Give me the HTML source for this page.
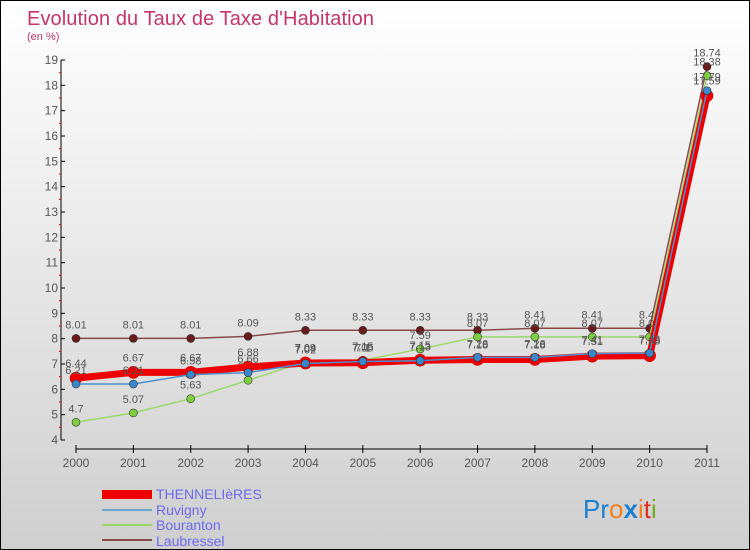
<!DOCTYPE html>
<html><head><meta charset="utf-8"><style>
body{margin:0}
#c{width:750px;height:550px;position:relative;box-sizing:border-box;border:1px solid #000;background:linear-gradient(#ffffff,#cfcfcf);font-family:"Liberation Sans",sans-serif;overflow:hidden}
</style></head><body>
<div id="c">
<svg id="s" width="748" height="548" style="position:absolute;left:0;top:0" font-family="Liberation Sans, sans-serif">
<text x="26" y="24" font-size="20" fill="#c8336a" textLength="347">Evolution du Taux de Taxe d'Habitation</text>
<text x="26" y="39" font-size="11" fill="#c8336a">(en %)</text>
<g id="axes"></g><g id="plot"></g>
<g>
<rect x="101" y="489" width="50" height="9" fill="#e00"/>
<text x="155" y="498" font-size="14" fill="#6a6af0">THENNELIèRES</text>
<line x1="101" y1="509" x2="151" y2="509" stroke="#6fa6cf" stroke-width="2"/>
<text x="155" y="514" font-size="14" fill="#6a6af0">Ruvigny</text>
<line x1="101" y1="524" x2="151" y2="524" stroke="#9ad86b" stroke-width="2"/>
<text x="155" y="529" font-size="14" fill="#6a6af0">Bouranton</text>
<line x1="101" y1="539" x2="151" y2="539" stroke="#8b4a4a" stroke-width="2"/>
<text x="155" y="545" font-size="14" fill="#6a6af0">Laubressel</text>
</g>
<text x="582" y="517" font-size="26"><tspan fill="#1a7fd0">Pr</tspan><tspan fill="#f08020">o</tspan><tspan fill="#1a7fd0" font-weight="bold">x</tspan><tspan fill="#f08020">i</tspan><tspan fill="#e03020">t</tspan><tspan fill="#70b020">i</tspan></text>
</svg>
</div>
<script>
const years=[2000,2001,2002,2003,2004,2005,2006,2007,2008,2009,2010,2011];
const yTicks=[4,5,6,7,8,9,10,11,12,13,14,15,16,17,18,19];
const thennelieres=[6.44,6.67,6.67,6.88,7.04,7.05,7.15,7.18,7.18,7.31,7.33,17.59];
const ruvigny=[6.21,6.21,6.58,6.66,7.02,7.10,7.13,7.26,7.26,7.41,7.43,17.79];
const bouranton=[4.7,5.07,5.63,6.36,7.09,7.15,7.59,8.07,8.07,8.07,8.07,18.38];
const laubressel=[8.01,8.01,8.01,8.09,8.33,8.33,8.33,8.33,8.41,8.41,8.41,18.74];
const NS="http://www.w3.org/2000/svg";
function X(i){return 75+i*(706-75)/(years.length-1);}
function Y(v){return 439-(v-4)*(439-59)/15;}
function mk(t,a,p){const e=document.createElementNS(NS,t);for(const k in a)e.setAttribute(k,a[k]);p.appendChild(e);return e;}
const ax=document.getElementById('axes'),pl=document.getElementById('plot');
const ya=mk('line',{x1:60,y1:59,x2:60,y2:439,stroke:'#000'},ax);


const xa=mk('line',{x1:75,y1:448,x2:706,y2:448,stroke:'#000'},ax);


yTicks.forEach(v=>{
  mk('line',{x1:60,y1:Y(v),x2:64,y2:Y(v),stroke:'#000'},ax);
  if(v<19)mk('line',{x1:58,y1:Y(v+0.5),x2:60,y2:Y(v+0.5),stroke:'#e00'},ax);
  const t=mk('text',{x:57,y:Y(v)+4,'font-size':12,fill:'#555','text-anchor':'end'},ax);t.textContent=v;
  
  
});
years.forEach((y,i)=>{
  mk('line',{x1:X(i),y1:444,x2:X(i),y2:452,stroke:'#000'},ax);
  const t=mk('text',{x:X(i),y:466,'font-size':12,fill:'#555','text-anchor':'middle'},ax);t.textContent=y;
  
  
});
const series=[
 {d:laubressel,c:'#8b4a4a',dot:'#6a1a1a',w:1.5,r:4,n:'laubressel'},
 {d:bouranton,c:'#9ad86b',dot:'#7ed040',w:1.5,r:4,n:'bouranton'},
 {d:thennelieres,c:'#ee0000',dot:'#ee0000',w:7,r:6,n:'thennelieres'},
 {d:ruvigny,c:'#4a90d0',dot:'#3a88cc',w:1.5,r:4,n:'ruvigny'}];
series.forEach((s,si)=>{
  const g=mk('g',{},pl);
  
  
  const l=mk('polyline',{points:s.d.map((v,i)=>X(i)+','+Y(v)).join(' '),fill:'none',stroke:s.c,'stroke-width':s.w},g);
  
  
  s.d.forEach((v,i)=>{
    const p=mk('circle',{cx:X(i),cy:Y(v),r:s.r,fill:s.dot,stroke:s.n=='thennelieres'?'#c00':'#333','stroke-width':0.6},g);
    
    
    const t=mk('text',{x:X(i),y:Y(v)-(s.n=='thennelieres'?11:10),'font-size':11,fill:'#555','text-anchor':'middle'},g);
    t.textContent=String(v);
    
    
  });
});
</script>
</body></html>
